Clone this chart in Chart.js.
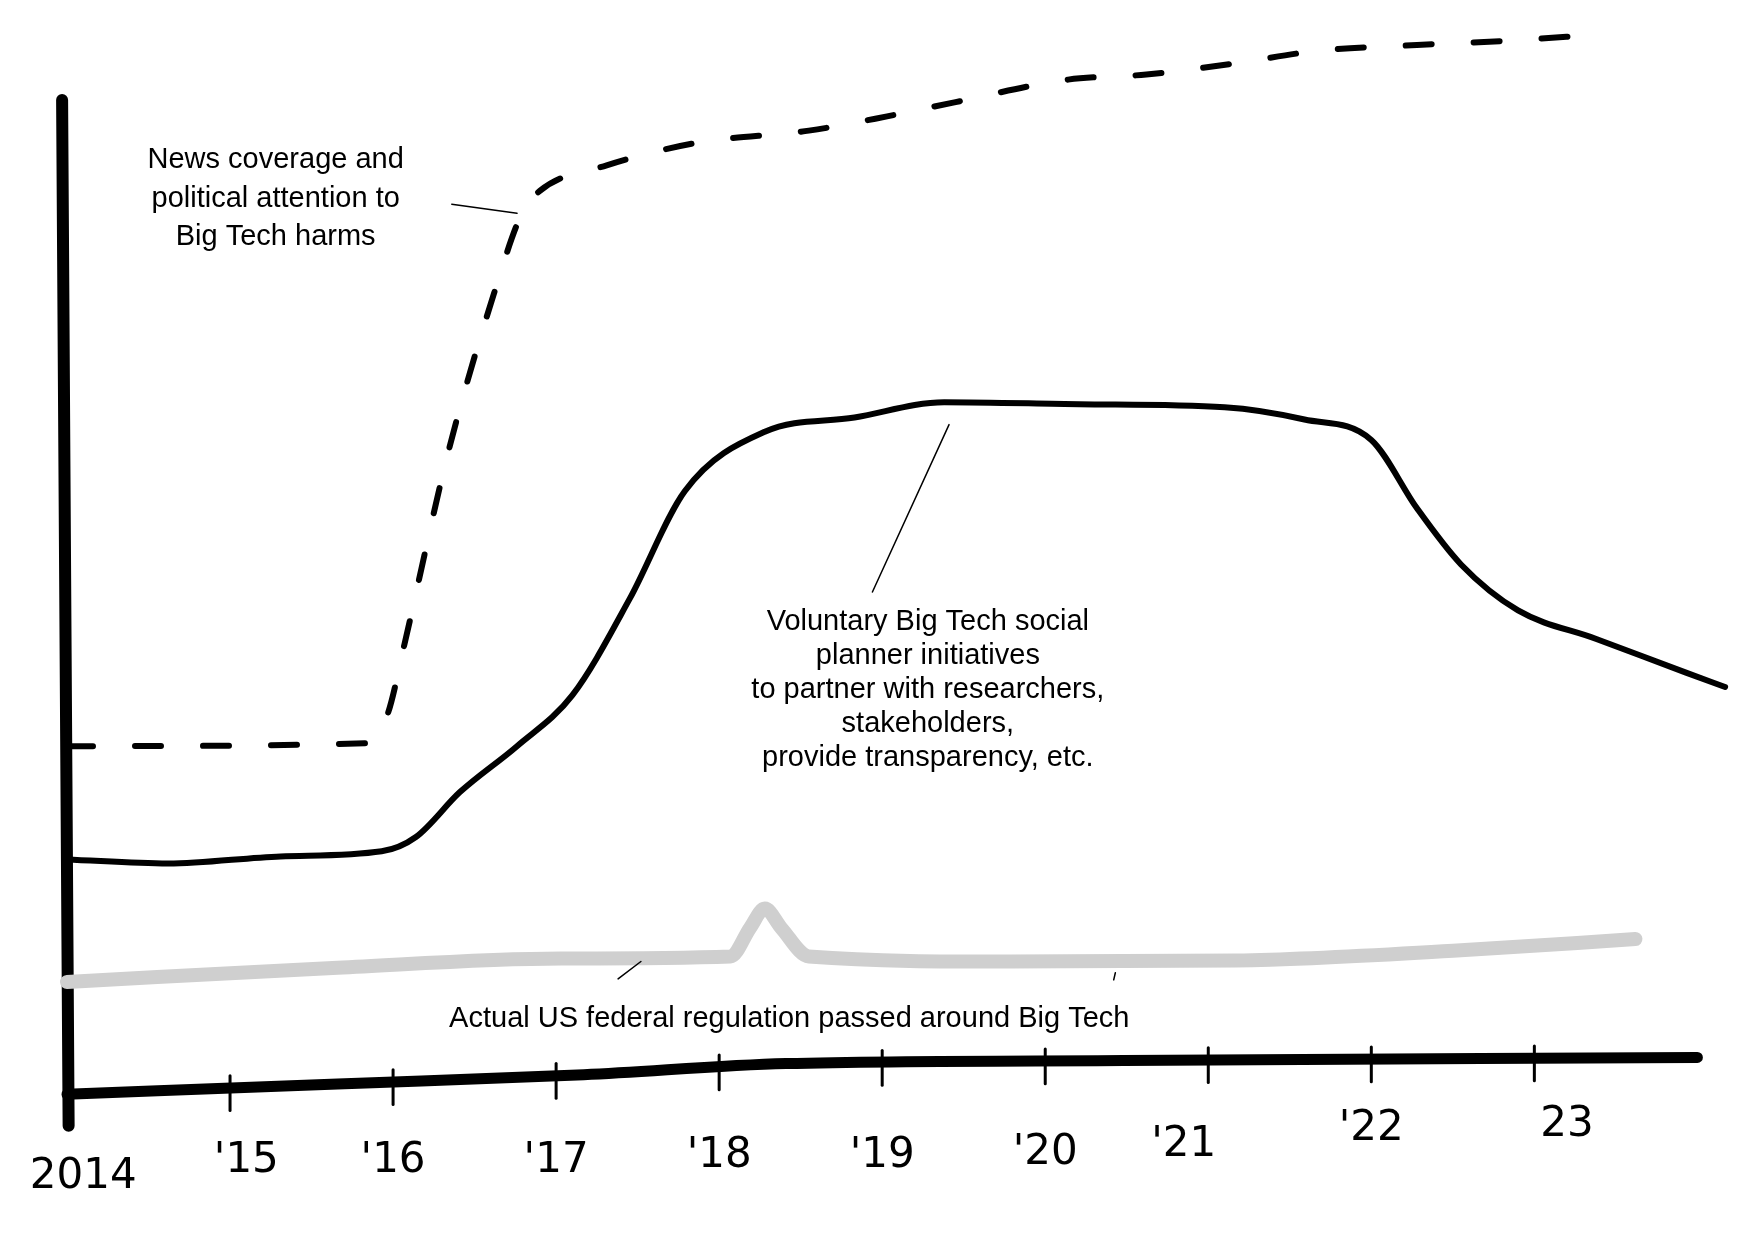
<!DOCTYPE html>
<html><head><meta charset="utf-8">
<script src="https://cdn.jsdelivr.net/npm/chart.js@4"></script>
<style>html,body{margin:0;padding:0;background:#fff}#w{width:1754px;height:1245px}</style>
</head><body><div id="w"><canvas id="c"></canvas></div>
<script>
const attentionX=[2014.0,2015.86,2015.97,2016.07,2016.34,2016.62,2016.79,2016.90,2017.31,2017.86,2018.55,2019.03,2019.45,2020.14,2020.62,2021.17,2021.66,2022.28,2022.83,2023.38];
const attentionY=[33.9,34.2,37.2,43.9,62.8,78.3,86.1,88.3,90.8,93.0,94.2,95.6,97.0,99.2,99.7,100.8,102.0,102.6,103.0,103.6];
const voluntaryX=[2014,2014.62,2015.31,2015.93,2016.14,2016.41,2016.76,2017.10,2017.45,2017.79,2018.28,2018.83,2019.38,2020.21,2021.10,2021.59,2022.0,2022.28,2022.55,2022.90,2023.38,2023.93,2024.17];
const voluntaryY=[22.8,22.4,23.1,23.6,25.0,29.4,33.9,38.9,48.3,58.9,64.7,66.1,67.6,67.4,67.1,65.9,63.9,57.2,51.7,47.2,44.4,41.1,39.7];
const regulationX=[2014,2015.66,2017.03,2018.07,2018.19,2018.28,2018.38,2018.55,2019.79,2021.17,2022.55,2023.62];
const regulationY=[10.8,12.2,13.1,13.3,16.1,18.0,16.1,13.3,12.8,12.9,13.9,15.0];
const baseX=[2014,2015.66,2017.17,2018.41,2020.48,2024.0];
const baseY=[-0.2,0.8,1.7,2.8,3.1,3.4];
const yAxisX=[2013.97,2014.01];
const yAxisY=[97.2,-3.3];
const tickYears=[2015,2016,2017,2018,2019,2020,2021,2022,2023];
const tickLabels=["2014","'15","'16","'17","'18","'19","'20","'21","'22","23"];
const tickLabelX=[2014.1,2015.1,2016.0,2017.0,2018.0,2019.0,2020.0,2020.85,2022.0,2023.2];
const tickLabelY=[-8.3,-6.8,-6.8,-6.8,-6.3,-6.3,-6.0,-5.2,-3.6,-3.2];
const pts=(xs,ys)=>xs.map((x,i)=>({x:x,y:ys[i]}));
const notes=[
 {lines:["News coverage and","political attention to","Big Tech harms"],x:2015.28,y:91.3,step:-3.75},
 {lines:["Voluntary Big Tech social","planner initiatives","to partner with researchers,","stakeholders,","provide transparency, etc."],x:2019.28,y:46.1,step:-3.33},
 {lines:["Actual US federal regulation passed around Big Tech"],x:2018.43,y:7.2,step:0}
];
const leaders=[[2016.36,87.0,2016.76,86.1],[2019.41,65.4,2018.94,49.0],[2017.52,12.8,2017.38,11.1],[2020.43,11.7,2020.42,11.0]];
const deco={id:'deco',afterDatasetsDraw(ch){
 const c=ch.ctx,xs=ch.scales.x,ys=ch.scales.y;
 c.save();
 c.strokeStyle='#000';c.lineWidth=3;c.lineCap='round';
 tickYears.forEach(t=>{
  let b=0;for(let i=0;i<baseX.length-1;i++){if(t>=baseX[i]&&t<=baseX[i+1]){b=baseY[i]+(baseY[i+1]-baseY[i])*(t-baseX[i])/(baseX[i+1]-baseX[i]);}}
  c.beginPath();c.moveTo(xs.getPixelForValue(t),ys.getPixelForValue(b+1.2));c.lineTo(xs.getPixelForValue(t),ys.getPixelForValue(b-2.2));c.stroke();
 });
 c.lineWidth=1.5;
 leaders.forEach(l=>{c.beginPath();c.moveTo(xs.getPixelForValue(l[0]),ys.getPixelForValue(l[1]));c.lineTo(xs.getPixelForValue(l[2]),ys.getPixelForValue(l[3]));c.stroke();});
 c.fillStyle='#000';c.textAlign='center';c.textBaseline='middle';
 c.font='29px "Liberation Sans", Arial, sans-serif';
 notes.forEach(n=>n.lines.forEach((s,i)=>c.fillText(s,xs.getPixelForValue(n.x),ys.getPixelForValue(n.y+i*n.step))));
 c.font='42px "DejaVu Sans", sans-serif';
 tickLabels.forEach((s,i)=>c.fillText(s,xs.getPixelForValue(tickLabelX[i]),ys.getPixelForValue(tickLabelY[i])));
 c.restore();
}};
const common={pointRadius:0,fill:false,cubicInterpolationMode:'monotone',borderCapStyle:'round',borderJoinStyle:'round'};
new Chart(document.getElementById('c'),{
 type:'line',
 data:{datasets:[
  Object.assign({label:'Regulation',data:pts(regulationX,regulationY),borderColor:'#cfcfcf',borderWidth:14},common),
  Object.assign({label:'Attention',data:pts(attentionX,attentionY),borderColor:'#000',borderWidth:6,borderDash:[26,42],borderCapStyle:'butt'},common),
  Object.assign({label:'Voluntary',data:pts(voluntaryX,voluntaryY),borderColor:'#000',borderWidth:6},common),
  Object.assign({label:'Baseline',data:pts(baseX,baseY),borderColor:'#000',borderWidth:11},common),
  Object.assign({label:'YAxis',data:pts(yAxisX,yAxisY),borderColor:'#000',borderWidth:12},common)
 ]},
 options:{responsive:true,maintainAspectRatio:false,animation:false,
  layout:{padding:{left:67,right:24,top:0,bottom:112}},
  plugins:{legend:{display:false},tooltip:{enabled:false}},
  clip:false,
  scales:{x:{type:'linear',min:2014,max:2024.2,display:false},y:{min:-4,max:107,display:false}}},
 plugins:[deco]
});
</script></body></html>
